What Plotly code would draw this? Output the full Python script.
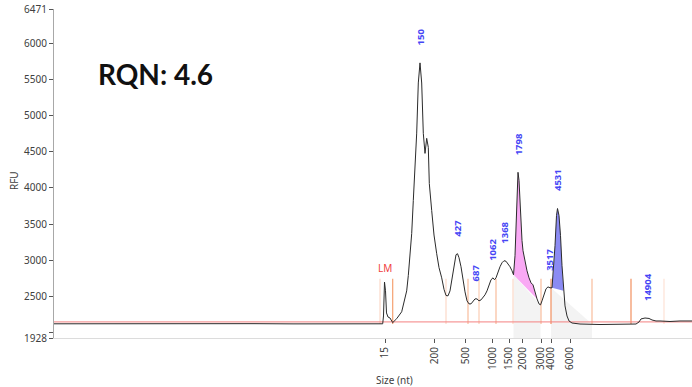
import plotly.graph_objects as go

# Electropherogram trace: migration position (scan units) and fluorescence (RFU)
scan_pos = [0, 40, 80, 120, 160, 200, 240, 280, 310, 328.7,
            329.5, 330.5, 331.5, 332.5, 334, 336, 338.7, 342.7, 347.7, 351, 352.7,
            354.3, 356, 357.7, 359.3, 361, 362.7, 364.3, 366, 367.7, 369.3, 371,
            372.7, 374.3, 375.3, 377.7, 380, 382.7, 385, 387.7, 390, 392, 394, 396, 398,
            400, 402, 403.5, 405, 407, 409, 411, 413, 415, 417, 419, 421, 423, 425, 427,
            429, 431, 433, 435, 437, 439, 440.5, 442, 444, 446, 448, 450, 452, 454, 456,
            458, 459.5, 461, 462, 463, 464, 465, 466, 467, 468, 469, 471, 473, 475, 477,
            479, 481, 483, 485, 486.5, 488, 490, 492, 494, 496, 498, 499.5, 501, 502.5,
            503.5, 505, 506.5, 508, 509.5, 511, 513, 515, 518, 526, 546, 566, 582, 585,
            587, 591, 595, 598, 602, 606, 616, 626, 638]
rfu = [2124, 2126, 2123, 2125, 2124, 2126, 2123, 2125, 2124, 2124,
       2232, 2700, 2580, 2274, 2218, 2204, 2140, 2195, 2290, 2470, 2579,
       2790, 3037, 3370, 3827, 4285, 4757, 5450, 5727, 5449, 4754, 4477,
       4685, 4560, 4061, 3688, 3350, 3092, 2900, 2759, 2600, 2515, 2510, 2579,
       2746, 2967, 3078, 3092, 3037, 2912, 2732, 2565, 2441, 2399, 2399, 2441, 2468,
       2468, 2441, 2454, 2482, 2524, 2579, 2648, 2732, 2759, 2732, 2759, 2842, 2912,
       2967, 2995, 2988, 2954, 2912, 2856, 2801, 3064, 3411, 3828, 4216, 4105, 3758,
       3481, 3273, 3134, 2967, 2856, 2759, 2690, 2662, 2551, 2468, 2399, 2385, 2441,
       2537, 2607, 2634, 2621, 2621, 2856, 3203, 3619, 3716, 3619, 3342, 2926, 2579,
       2371, 2232, 2163, 2135, 2121, 2114, 2114, 2121, 2149, 2191, 2204, 2198, 2177,
       2163, 2163, 2156, 2163, 2163]

# Size ladder ticks (nt) and their migration positions
size_ticks = [15, 200, 500, 1000, 1500, 2000, 3000, 4000, 6000]
size_tick_pos = [331, 380.3, 411.7, 438.3, 455, 468.7, 487, 497, 516]

# Called peaks: size label (nt), position, height
peak_sizes = ["150", "427", "687", "1062", "1368", "1798", "3517", "4531", "14904"]
peak_pos = [366, 403.5, 421, 439, 451, 464, 496, 503.5, 593]
peak_rfu = [5727, 3092, 2468, 2759, 2995, 4216, 2621, 3716, 2204]

# Lower marker
lm_pos, lm_rfu = 331, 2700

# Region boundary markers (position, line colour)
bound_pos = [326, 338.7, 392, 414, 425, 442, 459, 487, 497, 538, 577, 610]
bound_col = ["#fcd9c8", "#f5a070", "#fcd9c8", "#f8bd9c", "#fbcdb4", "#f8bd9c",
             "#fcd9c8", "#f8bd9c", "#f29060", "#f8bd9c", "#f29060", "#fde2d5"]
bound_top = 2745
bound_bottom = 2121

# Baseline estimate
baseline_pos = [0, 638]
baseline_rfu = [2150, 2150]

# Integrated peak areas: (start, end) positions
pink_range = (459.5, 483)
blue_range = (498, 510)
# Smear regions below the peaks
smear_a = dict(x=[459.5, 486.5, 486.5, 459.5], y=[2801, 2385, 1928, 1928])
smear_b = dict(x=[497, 538, 538, 497], y=[2621, 2121, 1928, 1928])

y_ticks = [1928, 2000, 2500, 3000, 3500, 4000, 4500, 5000, 5500, 6000, 6471]
y_ticktext = ["1928", "", "2500", "3000", "3500", "4000", "4500", "5000", "5500", "6000", "6471"]

fig = go.Figure()

for reg in (smear_a, smear_b):
    fig.add_trace(go.Scatter(x=reg["x"], y=reg["y"], fill="toself", mode="none",
                             fillcolor="rgba(235,235,235,0.6)", hoverinfo="skip"))


def segment(lo, hi):
    xs = [p for p in scan_pos if lo <= p <= hi]
    ys = [v for p, v in zip(scan_pos, rfu) if lo <= p <= hi]
    return xs, ys


px_, py_ = segment(*pink_range)
fig.add_trace(go.Scatter(x=px_, y=py_, fill="toself", mode="none",
                         fillcolor="rgba(247,140,240,0.75)", hoverinfo="skip"))
bx_, by_ = segment(*blue_range)
fig.add_trace(go.Scatter(x=bx_, y=by_, fill="toself", mode="none",
                         fillcolor="rgba(110,110,240,0.8)", hoverinfo="skip"))

# boundary markers
for p, c in zip(bound_pos, bound_col):
    fig.add_trace(go.Scatter(x=[p, p], y=[bound_bottom, bound_top], mode="lines",
                             line=dict(color=c, width=1.2), hoverinfo="skip"))

fig.add_trace(go.Scatter(x=baseline_pos, y=baseline_rfu, mode="lines",
                         line=dict(color="#f48080", width=1), hoverinfo="skip"))

fig.add_trace(go.Scatter(x=scan_pos, y=rfu, mode="lines",
                         line=dict(color="#2b2b2b", width=1), hoverinfo="skip"))

for s, p, v in zip(peak_sizes, peak_pos, peak_rfu):
    fig.add_annotation(x=p, y=v, text="<b>" + s + "</b>", textangle=-90, showarrow=False,
                       xanchor="center", yanchor="bottom", yshift=15,
                       font=dict(family="Noto Sans", size=9.5, color="#4646f5"))

fig.add_annotation(x=lm_pos, y=lm_rfu, text="LM", showarrow=False,
                   xanchor="center", yanchor="bottom", yshift=5,
                   font=dict(family="Noto Sans", size=10, color="#f04040"))

fig.add_annotation(xref="paper", yref="paper", x=0.066, y=0.802, text="<b>RQN: 4.6</b>",
                   showarrow=False, xanchor="left", yanchor="middle",
                   font=dict(family="Lato", size=28, color="#111111"))

fig.add_annotation(xref="paper", yref="paper", x=-0.0627, y=0.48, text="RFU",
                   textangle=-90, showarrow=False, xanchor="center", yanchor="middle",
                   font=dict(family="Noto Sans", size=10, color="#404040"))
fig.add_annotation(xref="paper", yref="paper", x=0.5337, y=-0.128, text="Size (nt)",
                   showarrow=False, xanchor="center", yanchor="middle",
                   font=dict(family="Noto Sans", size=10, color="#404040"))

fig.update_layout(
    width=692, height=387,
    margin=dict(l=54, r=0, t=9, b=49),
    paper_bgcolor="white", plot_bgcolor="white",
    showlegend=False,
    xaxis=dict(range=[0, 638], tickmode="array", tickvals=size_tick_pos,
               ticktext=[str(t) for t in size_ticks], tickangle=-90,
               ticks="outside", ticklen=4, tickcolor="#555", showgrid=False,
               zeroline=False, showline=True, linecolor="#dcdcdc",
               tickfont=dict(family="Noto Sans", size=10, color="#404040")),
    yaxis=dict(range=[1928, 6471], tickmode="array", tickvals=y_ticks,
               ticktext=y_ticktext, ticks="outside", ticklen=4, tickcolor="#555",
               showgrid=False, zeroline=False, showline=True, linecolor="#a8a8a8",
               tickfont=dict(family="Noto Sans", size=10, color="#404040")),
)

fig.write_html("out.html")
